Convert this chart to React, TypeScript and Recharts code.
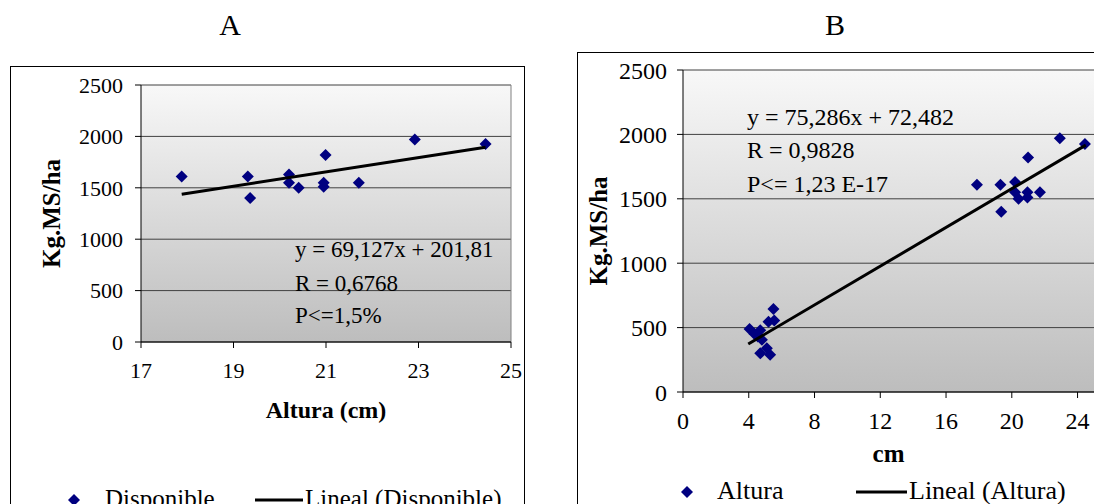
import { ScatterChart, Scatter, XAxis, YAxis, CartesianGrid, ReferenceLine } from 'recharts'

const FONT = '"Liberation Serif", "Times New Roman", serif'

// panel A: height vs available forage
const alturaA = [17.88, 19.31, 19.36, 20.2, 20.2, 20.41, 20.99, 20.95, 20.95, 21.71, 22.92, 24.45]
const disponibleA = [1610, 1610, 1400, 1630, 1550, 1500, 1820, 1550, 1510, 1550, 1970, 1925]
const trendAx = [17.88, 24.45]
const trendAy = [1437, 1895]

// panel B: low cluster added to the same points
const alturaLow = [4.05, 4.35, 4.55, 4.7, 4.8, 5.1, 4.7, 5.3, 5.2, 5.55, 5.5]
const masaLow = [490, 450, 430, 480, 405, 340, 300, 290, 545, 555, 645]
const trendBx = [3.97, 24.5]
const trendBy = [373, 1917]

const xTicksA = [17, 19, 21, 23, 25]
const xTicksB = [0, 4, 8, 12, 16, 20, 24]
const yTicks = [0, 500, 1000, 1500, 2000, 2500]

const pts = (xs: number[], ys: number[]) => xs.map((x, i) => ({ x, y: ys[i] }))

const Diamond = (props: any) => {
  const { cx, cy } = props
  const r = 6
  return (
    <polygon
      points={`${cx},${cy - r} ${cx + r},${cy} ${cx},${cy + r} ${cx - r},${cy}`}
      fill="#000080"
    />
  )
}

const NoDot = () => <g />

const axisStyle = { stroke: '#000' }

export default function App() {
  const dataA = pts(alturaA, disponibleA)
  const dataB = [...pts(alturaLow, masaLow), ...pts(alturaA, disponibleA)]

  return (
    <div
      style={{
        position: 'absolute',
        left: 0,
        top: 0,
        width: 1094,
        height: 504,
        overflow: 'hidden',
        background: '#fff',
        fontFamily: FONT,
      }}
    >
      {/* frames */}
      <div
        style={{
          position: 'absolute',
          left: 10,
          top: 66,
          width: 515,
          height: 500,
          border: '1px solid #000',
          boxSizing: 'border-box',
        }}
      />
      <div
        style={{
          position: 'absolute',
          left: 577,
          top: 52,
          width: 540,
          height: 500,
          border: '1px solid #000',
          boxSizing: 'border-box',
        }}
      />

      <div style={{ position: 'absolute', left: 10, top: 66 }}>
        <ScatterChart width={514} height={438} margin={{ top: 19, right: 13, left: 0, bottom: 86 }}>
          <defs>
            <linearGradient id="gradA" x1="0" y1="0" x2="0" y2="1">
              <stop offset="0%" stopColor="#f8f8f8" />
              <stop offset="100%" stopColor="#bdbdbd" />
            </linearGradient>
          </defs>
          <CartesianGrid vertical={false} stroke="#404040" fill="url(#gradA)" fillOpacity={1} />
          <XAxis
            type="number"
            dataKey="x"
            domain={[17, 25]}
            ticks={xTicksA}
            height={76}
            tickMargin={14}
            tick={{ fill: '#000', fontSize: 22, fontFamily: FONT }}
            axisLine={axisStyle}
            tickLine={axisStyle}
            label={{
              value: 'Altura (cm)',
              position: 'insideBottom',
              offset: 0,
              fill: '#000',
              fontSize: 24,
              fontWeight: 'bold',
              fontFamily: FONT,
            }}
          />
          <YAxis
            type="number"
            dataKey="y"
            domain={[0, 2500]}
            ticks={yTicks}
            width={131}
            tickMargin={12}
            tick={{ fill: '#000', fontSize: 22, fontFamily: FONT }}
            axisLine={axisStyle}
            tickLine={axisStyle}
            label={{
              value: 'Kg.MS/ha',
              angle: -90,
              position: 'center',
              dx: -24.5,
              fill: '#000',
              fontSize: 25,
              fontWeight: 'bold',
              fontFamily: FONT,
            }}
          />
          <ReferenceLine x={25} stroke="#808080" />
          <Scatter data={dataA} shape={Diamond} isAnimationActive={false} />
          <Scatter
            data={pts(trendAx, trendAy)}
            line={{ stroke: '#000', strokeWidth: 3 }}
            shape={NoDot}
            isAnimationActive={false}
          />
        </ScatterChart>
      </div>

      <div style={{ position: 'absolute', left: 577, top: 52 }}>
        <ScatterChart width={517} height={452} margin={{ top: 18, right: 0, left: 0, bottom: 42 }}>
          <defs>
            <linearGradient id="gradB" x1="0" y1="0" x2="0" y2="1">
              <stop offset="0%" stopColor="#f8f8f8" />
              <stop offset="100%" stopColor="#bdbdbd" />
            </linearGradient>
          </defs>
          <CartesianGrid vertical={false} stroke="#404040" fill="url(#gradB)" fillOpacity={1} />
          <XAxis
            type="number"
            dataKey="x"
            domain={[0, 25]}
            ticks={xTicksB}
            height={70}
            tickMargin={14}
            tick={{ fill: '#000', fontSize: 24, fontFamily: FONT }}
            axisLine={axisStyle}
            tickLine={axisStyle}
            label={{
              value: 'cm',
              position: 'insideBottom',
              offset: 0,
              fill: '#000',
              fontSize: 25,
              fontWeight: 'bold',
              fontFamily: FONT,
            }}
          />
          <YAxis
            type="number"
            dataKey="y"
            domain={[0, 2500]}
            ticks={yTicks}
            width={106}
            tickMargin={10}
            tick={{ fill: '#000', fontSize: 24, fontFamily: FONT }}
            axisLine={axisStyle}
            tickLine={axisStyle}
            label={{
              value: 'Kg.MS/ha',
              angle: -90,
              position: 'center',
              dx: -32,
              fill: '#000',
              fontSize: 25,
              fontWeight: 'bold',
              fontFamily: FONT,
            }}
          />
          <Scatter data={dataB} shape={Diamond} isAnimationActive={false} />
          <Scatter
            data={pts(trendBx, trendBy)}
            line={{ stroke: '#000', strokeWidth: 3 }}
            shape={NoDot}
            isAnimationActive={false}
          />
        </ScatterChart>
      </div>

      {/* titles, equations, legends */}
      <svg
        width={1094}
        height={504}
        style={{ position: 'absolute', left: 0, top: 0, pointerEvents: 'none' }}
        fontFamily={FONT}
        fill="#000"
      >
        <text x={230} y={35} fontSize={30} textAnchor="middle">A</text>
        <text x={835} y={35} fontSize={30} textAnchor="middle">B</text>

        <text x={295} y={257} fontSize={23}>y = 69,127x + 201,81</text>
        <text x={295} y={291} fontSize={23}>R = 0,6768</text>
        <text x={295} y={323} fontSize={23}>P&lt;=1,5%</text>

        <text x={747} y={125} fontSize={24}>y = 75,286x + 72,482</text>
        <text x={747} y={158} fontSize={24}>R = 0,9828</text>
        <text x={747} y={192} fontSize={24}>P&lt;= 1,23 E-17</text>

        <Diamond cx={74} cy={500} />
        <text x={105} y={507} fontSize={25}>Disponible</text>
        <line x1={255} y1={500} x2={303} y2={500} stroke="#000" strokeWidth={3} />
        <text x={305} y={507} fontSize={25}>Lineal (Disponible)</text>

        <Diamond cx={687} cy={492} />
        <text x={717} y={499} fontSize={26}>Altura</text>
        <line x1={856} y1={492} x2={907} y2={492} stroke="#000" strokeWidth={3} />
        <text x={909} y={499} fontSize={26}>Lineal (Altura)</text>
      </svg>
    </div>
  )
}
